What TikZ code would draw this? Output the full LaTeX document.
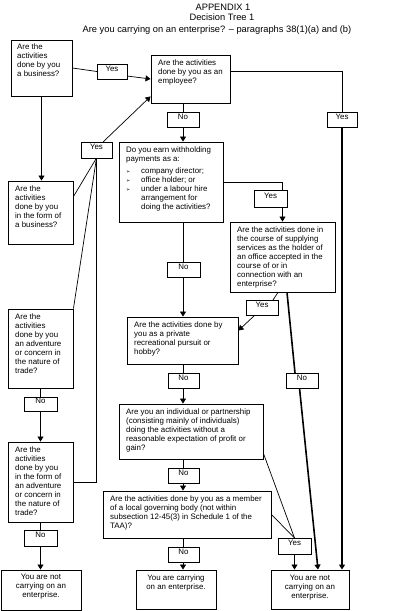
\documentclass[tikz,border=0pt]{standalone}
\usepackage{fontspec}
\setmainfont{Liberation Sans}
\newfontfamily\dvfont{DejaVu Sans}
\usetikzlibrary{arrows.meta,fit,calc}
\begin{document}
\begin{tikzpicture}[x=1pt,y=-1pt,
  box/.style={draw,line width=0.9pt,inner sep=0pt,fit={#1}},
  lab/.style={draw,line width=0.8pt,fill=white,inner sep=0pt,fit={#1},font=\fontsize{7.9}{9}\selectfont},
  txt/.style={inner sep=0pt,align=left,anchor=north west,font=\fontsize{7.9}{9}\selectfont},
  ctxt/.style={inner sep=0pt,align=center,anchor=north,font=\fontsize{7.9}{9}\selectfont},
  ttl/.style={inner sep=0pt,anchor=base,font=\fontsize{9.3}{10}\selectfont},
  ln/.style={line width=0.7pt},
  thk/.style={line width=1.6pt},
  arr/.style={-{Triangle[width=6pt,length=5pt]}}]
\useasboundingbox (0,0) rectangle (400,611);
% title
\node[ttl] (t1) at (223,10.5) {APPENDIX 1};
\node[ttl] (t2) at (222,20.5) {Decision Tree 1};
\node[ttl] (t3) at (217,32.5) {Are you carrying on an enterprise? -- paragraphs 38(1)(a) and (b)};
% boxes
\node[box={(11,40)(72,96)}] (A) {};
\node[box={(151,55)(230,103)}] (B) {};
\node[box={(119,142)(223,222)}] (C) {};
\node[box={(8,181)(73,244)}] (D) {};
\node[box={(230,222)(335,292)}] (F) {};
\node[box={(127,317)(238,364)}] (I) {};
\node[box={(8,309)(73,388)}] (E) {};
\node[box={(119,404)(263,459)}] (J) {};
\node[box={(8,442)(73,522)}] (G) {};
\node[box={(103,491)(271,538)}] (L) {};
\node[box={(1,570)(81,610)}] (H) {};
\node[box={(136,570)(216,609)}] (M) {};
\node[box={(271,570)(349,609)}] (K) {};
% box texts (y = top of first line)
\node[txt] (At) at (17,44) {Are the\\activities\\done by you\\a business?};
\node[txt] (Bt) at (158,60) {Are the activities\\done by you as an\\employee?};
\node[txt] (Ct) at (126,147) {Do you earn withholding\\payments as a:\\[3pt]
  \makebox[15pt][l]{\dvfont\fontsize{5}{5}\selectfont ➢}company director;\\
  \makebox[15pt][l]{\dvfont\fontsize{5}{5}\selectfont ➢}office holder; or\\
  \makebox[15pt][l]{\dvfont\fontsize{5}{5}\selectfont ➢}under a labour hire\\
  \hspace*{15pt}arrangement for\\
  \hspace*{15pt}doing the activities?};
\node[txt] (Dt) at (15,186) {Are the\\activities\\done by you\\in the form of\\a business?};
\node[txt] (Et) at (15,314) {Are the\\activities\\done by you\\an adventure\\or concern in\\the nature of\\trade?};
\node[txt] (Gt) at (15,447) {Are the\\activities\\done by you\\in the form of\\an adventure\\or concern in\\the nature of\\trade?};
\node[ctxt] (Ht) at (41,574) {You are not\\carrying on an\\enterprise.};
\node[txt] (It) at (134,322) {Are the activities done by\\you as a private\\recreational pursuit or\\hobby?};
\node[txt] (Ft) at (237,227) {Are the activities done in\\the course of supplying\\services as the holder of\\an office accepted in the\\course of or in\\connection with an\\enterprise?};
\node[txt] (Jt) at (126,409) {Are you an individual or partnership\\(consisting mainly of individuals)\\doing the activities without a\\reasonable expectation of profit or\\gain?};
\node[txt] (Lt) at (110,496) {Are the activities done by you as a member\\of a local governing body (not within\\subsection 12-45(3) in Schedule 1 of the\\TAA)?};
\node[ctxt] (Mt) at (176,575) {You are carrying\\on an enterprise.};
\node[ctxt] (Kt) at (310,575) {You are not\\carrying on an\\enterprise.};
% connectors
\draw[ln] (A.east) -- (97,71.5) coordinate (y1w);
\draw[ln,arr] (127,76) coordinate (y1e) -- (B.west);
\draw[ln] ([yshift=8pt]B.east) -| (342,112) coordinate (yRn);
\draw[thk,arr] (342,127) coordinate (yRs) -- (yRs |- K.north);
\draw[ln,arr] (A.south) -- (A.south |- D.north);
\draw[ln] ([yshift=-16pt]D.north east) -- (96.5,158) coordinate (y2s);
\draw[ln] (E.north east) -- (y2s);
\draw[ln] (G.east) -| (y2s);
\draw[ln,arr] (103,142) coordinate (y2n) -- ([yshift=7pt]B.south west);
\draw[ln] (C.east) -| (F.north |- 0,190) coordinate (y6n);
\draw[ln,arr] (F.north |- 0,207) coordinate (y6s) -- (F.north);
\draw[ln] ([xshift=-4.5pt]F.south) -- (273,300) coordinate (y7n);
\draw[ln,arr] (255,315) coordinate (y7s) -- ([yshift=10pt]I.east);
\draw[thk] ([xshift=4.5pt]F.south) -- (295,373) coordinate (n8n);
\draw[thk,arr] (299.5,388) coordinate (n8s) -- ([xshift=8pt]K.north);
\draw[ln] ([yshift=6pt]J.south east) -- (294.5,538) coordinate (y12n);
\draw[ln] (L.east) -- (y12n);
\draw[ln,arr] (294.5,554) coordinate (y12s) -- (y12s |- K.north);
% middle column
\draw[ln] (183,0 |- B.south) -- (183,112);
\draw[ln,arr] (183,127) -- (183,0 |- C.north);
\draw[ln] (183,0 |- C.south) -- (183,262);
\draw[ln,arr] (183,277) -- (183,0 |- I.north);
\draw[ln] (183,0 |- I.south) -- (183,373);
\draw[ln,arr] (183,388) -- (183,0 |- J.north);
\draw[ln] (183,0 |- J.south) -- (183,468);
\draw[ln,arr] (183,483) -- (183,0 |- L.north);
\draw[ln] (183,0 |- L.south) -- (183,547);
\draw[ln,arr] (183,562) -- (183,0 |- M.north);
% left column
\draw[ln] (E.south) -- (40.5,397);
\draw[ln,arr] (40.5,411) -- (40.5,0 |- G.north);
\draw[ln] (G.south) -- (40.5,530);
\draw[ln,arr] (40.5,546) -- (40.5,0 |- H.north);
% labels
\node[lab={(97,64)(127,79)}] (yes1) {Yes};
\node[lab={(327,112)(357,127)}] (yesR) {Yes};
\node[lab={(167,112)(199,127)}] (no2) {No};
\node[lab={(81,142)(112,158)}] (yes2) {Yes};
\node[lab={(254,190)(287,207)}] (yes6) {Yes};
\node[lab={(167,262)(200,277)}] (no5) {No};
\node[lab={(246,300)(278,315)}] (yes7) {Yes};
\node[lab={(286,373)(318,388)}] (no8) {No};
\node[lab={(168,373)(199,388)}] (no9) {No};
\node[lab={(24,397)(57,411)}] (no3) {No};
\node[lab={(168,468)(199,483)}] (no10) {No};
\node[lab={(24,530)(57,546)}] (no4) {No};
\node[lab={(278,538)(311,554)}] (yes12) {Yes};
\node[lab={(168,547)(199,562)}] (no11) {No};
\end{tikzpicture}
\end{document}
